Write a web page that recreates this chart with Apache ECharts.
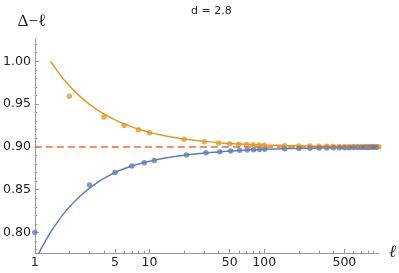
<!DOCTYPE html>
<html>
<head>
<meta charset="utf-8">
<script src="https://cdn.jsdelivr.net/npm/echarts@6/dist/echarts.min.js"></script>
<style>
html,body{margin:0;padding:0;background:#fff;}
#chart{width:399px;height:273px;}
</style>
</head>
<body>
<div id="chart"></div>
<script>
// ---- data ----
const titleText = 'd = 2.8';
const orangeEll = [2,4,6,8,10,20,30,40,50,60,70,80,90,100,150,200,250,300,350,400,450,500,550,600,650,700,750,800,850,900,950,1000];
const orangeVals = [0.959,0.935,0.925,0.920,0.9165,0.909,0.906,0.9045,0.9035,0.903,0.9027,0.9024,0.9022,0.902,0.9014,0.9011,0.9009,0.9008,0.9007,0.9006,0.9005,0.9005,0.9004,0.9004,0.9004,0.9003,0.9003,0.9003,0.9003,0.9003,0.9002,0.9002];
const blueEll = [1,3,5,7,9,11,21,31,41,51,61,71,81,91,101,151,201,251,301,351,401,451,501,551,601,651,701,751,801,851,901,951];
const blueVals = [0.800,0.8555,0.870,0.8775,0.8813,0.884,0.8905,0.893,0.8944,0.8953,0.896,0.8964,0.8967,0.897,0.8972,0.8978,0.8982,0.8985,0.8987,0.8988,0.8989,0.899,0.8991,0.8991,0.8992,0.8992,0.8993,0.8993,0.8993,0.8994,0.8994,0.8994];
const orangeCurveEll = [1.37,1.5,1.6,1.75,2,2.25,2.5,3,3.5,4,5,6,7,8,10,12,15,20,30,40,50,70,100,150,200,300,500,1000];
const orangeCurveVals = [1.000,0.9922,0.9870,0.9803,0.9713,0.9642,0.9584,0.9496,0.9433,0.9384,0.9315,0.9267,0.9233,0.9207,0.9169,0.9144,0.9118,0.9091,0.9064,0.9049,0.9040,0.9030,0.9022,0.9015,0.9012,0.9008,0.9005,0.9003];
const blueCurveEll = [1.05,1.15,1.25,1.35,1.5,1.75,2,2.5,3,3.5,4,5,6,7,8,10,12,15,20,30,40,50,70,100,150,200,300,500,1000];
const blueCurveVals = [0.772,0.7825,0.791,0.7988,0.808,0.8205,0.8298,0.8429,0.8518,0.8583,0.8631,0.870,0.8744,0.8775,0.880,0.8833,0.8856,0.8878,0.8901,0.8928,0.8941,0.8952,0.8962,0.8971,0.8978,0.8982,0.8986,0.8990,0.8994];
const limitValue = 0.9;
const xMajorTicks = [1,5,10,50,100,500];
const xMinorTicks = [2,3,4,6,7,8,9,20,30,40,60,70,80,90,200,300,400,600,700,800,900];
const yMajorTicks = [0.80,0.85,0.90,0.95,1.00];
const yMinorTicks = [0.78,0.79,0.81,0.82,0.83,0.84,0.86,0.87,0.88,0.89,0.91,0.92,0.93,0.94,0.96,0.97,0.98,0.99,1.01,1.02];
const xMin = 1, xMax = 1000, yMin = 0.776, yMax = 1.026;

// ---- styling ----
const ORANGE = '#E19C24', BLUE = '#5E81B5', RED = '#F0683A', AXIS = '#9a9a9a', TXT = '#222';
const tickFont = {fontFamily:'DejaVu Sans', fontSize:12.5, color:TXT};
const pairs = (xs, ys) => xs.map((x,i)=>[x, ys[i]]);
const lg = v => Math.log10(v);

const chart = echarts.init(document.getElementById('chart'), null, {renderer:'canvas'});
chart.setOption({
  animation:false,
  backgroundColor:'#fff',
  title:{text:titleText, left:186, top:1, textStyle:{fontFamily:'DejaVu Sans', fontSize:11, fontWeight:'normal', color:TXT}},
  grid:{left:34, right:17, top:39, bottom:20, containLabel:false},
  xAxis:[
    {type:'log', logBase:10, min:xMin, max:xMax, position:'bottom',
     axisLine:{show:true, lineStyle:{color:AXIS, width:1}}, axisTick:{show:false}, axisLabel:{show:false}, splitLine:{show:false},
     name:'ℓ', nameLocation:'end', nameGap:10,
     nameTextStyle:{fontFamily:'Liberation Serif', fontStyle:'italic', fontSize:17, color:TXT, verticalAlign:'middle', padding:[0,0,6,0]}},
    {type:'value', min:lg(xMin), max:lg(xMax), position:'bottom', offset:0,
     axisLine:{show:false}, splitLine:{show:false},
     axisTick:{show:true, inside:true, length:4, customValues:xMajorTicks.map(lg), lineStyle:{color:AXIS}},
     axisLabel:Object.assign({show:true, margin:3, customValues:xMajorTicks.map(lg), formatter:v=>String(Math.round(Math.pow(10,v)))}, tickFont)},
    {type:'value', min:lg(xMin), max:lg(xMax), position:'bottom', offset:0,
     axisLine:{show:false}, splitLine:{show:false}, axisLabel:{show:false},
     axisTick:{show:true, inside:true, length:2.5, customValues:xMinorTicks.map(lg), lineStyle:{color:AXIS}}}
  ],
  yAxis:[
    {type:'value', min:yMin, max:yMax, position:'left',
     axisLine:{show:true, lineStyle:{color:AXIS, width:1}}, splitLine:{show:false},
     axisTick:{show:true, inside:true, length:4, customValues:yMajorTicks, lineStyle:{color:AXIS}},
     axisLabel:Object.assign({show:true, margin:4, customValues:yMajorTicks, formatter:v=>v.toFixed(2)}, tickFont),
     name:'Δ−ℓ', nameLocation:'end', nameGap:17,
     nameTextStyle:{fontFamily:'Liberation Serif', fontSize:17, color:TXT, align:'center', verticalAlign:'middle', padding:[0,6,0,0]}},
    {type:'value', min:yMin, max:yMax, position:'left', offset:0,
     axisLine:{show:false}, splitLine:{show:false}, axisLabel:{show:false},
     axisTick:{show:true, inside:true, length:2.5, customValues:yMinorTicks, lineStyle:{color:AXIS}}}
  ],
  series:[
    {type:'line', name:'limit', data:[], xAxisIndex:0, yAxisIndex:0, z:1,
     markLine:{silent:true, symbol:['none','none'], label:{show:false},
       lineStyle:{color:RED, width:1.5, type:[7,4]}, data:[{yAxis:limitValue}]}},
    {type:'line', name:'orange fit', data:pairs(orangeCurveEll, orangeCurveVals), xAxisIndex:0, yAxisIndex:0,
     smooth:0.3, showSymbol:false, lineStyle:{color:ORANGE, width:1.5}, z:2},
    {type:'line', name:'blue fit', data:pairs(blueCurveEll, blueCurveVals), xAxisIndex:0, yAxisIndex:0,
     smooth:0.3, showSymbol:false, lineStyle:{color:BLUE, width:1.5}, z:2},
    {type:'scatter', name:'orange', data:pairs(orangeEll, orangeVals), xAxisIndex:0, yAxisIndex:0,
     symbolSize:5.5, itemStyle:{color:ORANGE}, z:3},
    {type:'scatter', name:'blue', data:pairs(blueEll, blueVals), xAxisIndex:0, yAxisIndex:0,
     symbolSize:5.5, itemStyle:{color:BLUE}, z:3}
  ]
});
</script>
</body>
</html>
